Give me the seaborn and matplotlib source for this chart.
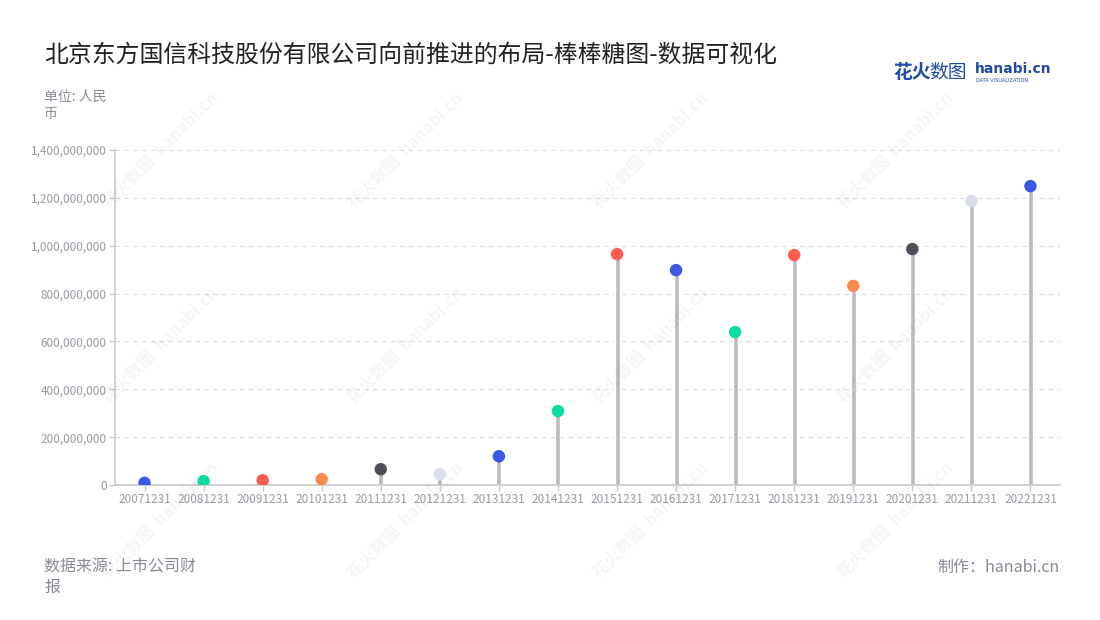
import seaborn as sns
import pandas as pd
import matplotlib.pyplot as plt
from matplotlib.ticker import FuncFormatter

# data
periods = ["20071231", "20081231", "20091231", "20101231", "20111231", "20121231",
           "20131231", "20141231", "20151231", "20161231", "20171231", "20181231",
           "20191231", "20201231", "20211231", "20221231"]
values = [9e6, 16e6, 20e6, 24e6, 66e6, 45e6, 120e6, 309e6, 965e6, 898e6,
          639e6, 961e6, 832e6, 986e6, 1187e6, 1249e6]
dot_colors = ["#3B57E8", "#0ADDA0", "#FF5B4F", "#FF8A4C", "#4E4E58", "#D9DEEA",
              "#3B57E8", "#0ADDA0", "#FF5B4F", "#3B57E8", "#0ADDA0", "#FF5B4F",
              "#FF8A4C", "#4E4E58", "#D9DEEA", "#3B57E8"]
y_ticks = [0, 200e6, 400e6, 600e6, 800e6, 1000e6, 1200e6, 1400e6]

df = pd.DataFrame({"period": periods, "value": values})

sns.set_theme(style="white")
plt.rcParams['font.family'] = ['Noto Sans CJK SC', 'DejaVu Sans']

fig = plt.figure(figsize=(11, 6.2), dpi=100)
ax = fig.add_axes([115 / 1100, 1 - 485 / 620, 945 / 1100, 335 / 620])

# stems
sns.barplot(data=df, x="period", y="value", color="#BBBBBB", width=0.085,
            saturation=1, ax=ax, zorder=2)
# heads
sns.scatterplot(data=df, x="period", y="value", hue="period",
                palette=dict(zip(periods, dot_colors)), s=80, linewidth=0,
                legend=False, ax=ax, zorder=3)

ax.set_xlim(-0.5, len(periods) - 0.5)
ax.set_ylim(0, 1.4e9)
ax.set_yticks(y_ticks)
ax.yaxis.set_major_formatter(FuncFormatter(lambda v, p: f"{int(v):,}"))
ax.set_xlabel("")
ax.set_ylabel("")
ax.grid(axis="y", color="#DDDDDD", linestyle=(0, (4, 4)), linewidth=0.8, zorder=0)
ax.set_axisbelow(True)
for side in ["top", "right"]:
    ax.spines[side].set_visible(False)
for side in ["left", "bottom"]:
    ax.spines[side].set_color("#C8C8C8")
    ax.spines[side].set_linewidth(1.2)
ax.tick_params(axis="both", colors="#C8C8C8", labelcolor="#9A9AA4",
               labelsize=8.5, length=4, width=1, pad=2, left=True, bottom=True)

# faint watermark
for wx in [160, 405, 650, 895]:
    for wy in [150, 345, 520]:
        fig.text(wx / 1100, 1 - wy / 620, "花火数图  hanabi.cn", rotation=45,
                 fontsize=12, color="#000000", alpha=0.045, fontweight="bold",
                 ha="center", va="center", zorder=0)

fig.text(44 / 1100, 1 - 55 / 620, "北京东方国信科技股份有限公司向前推进的布局-棒棒糖图-数据可视化",
         fontsize=17.2, color="#222222", va="center", ha="left")
fig.text(44 / 1100, 1 - 105 / 620, "单位: 人民\n币", fontsize=10, color="#8A8A96",
         va="center", ha="left", linespacing=1.3)
fig.text(44 / 1100, 1 - 577 / 620, "数据来源: 上市公司财\n报", fontsize=11.5, color="#8A8A96",
         va="center", ha="left", linespacing=1.3)
fig.text(1060 / 1100, 1 - 567 / 620, "制作：hanabi.cn", fontsize=11.5, color="#8A8A96",
         va="center", ha="right")

# logo
fig.text(893 / 1100, 1 - 72 / 620, "花火", fontsize=13.5, color="#1F4BA5",
         fontweight="bold", va="center", ha="left")
fig.text(929 / 1100, 1 - 72 / 620, "数图", fontsize=13.5, color="#1F4BA5",
         va="center", ha="left")
fig.text(975 / 1100, 1 - 69 / 620, "hanabi.cn", fontsize=10, color="#1F4BA5",
         fontweight="bold", va="center", ha="left", family=["DejaVu Sans"])
fig.text(976 / 1100, 1 - 80 / 620, "DATA VISUALIZATION", fontsize=3.6, color="#1F4BA5",
         va="center", ha="left", family=["DejaVu Sans"])

fig.savefig("out.png", dpi=100)
